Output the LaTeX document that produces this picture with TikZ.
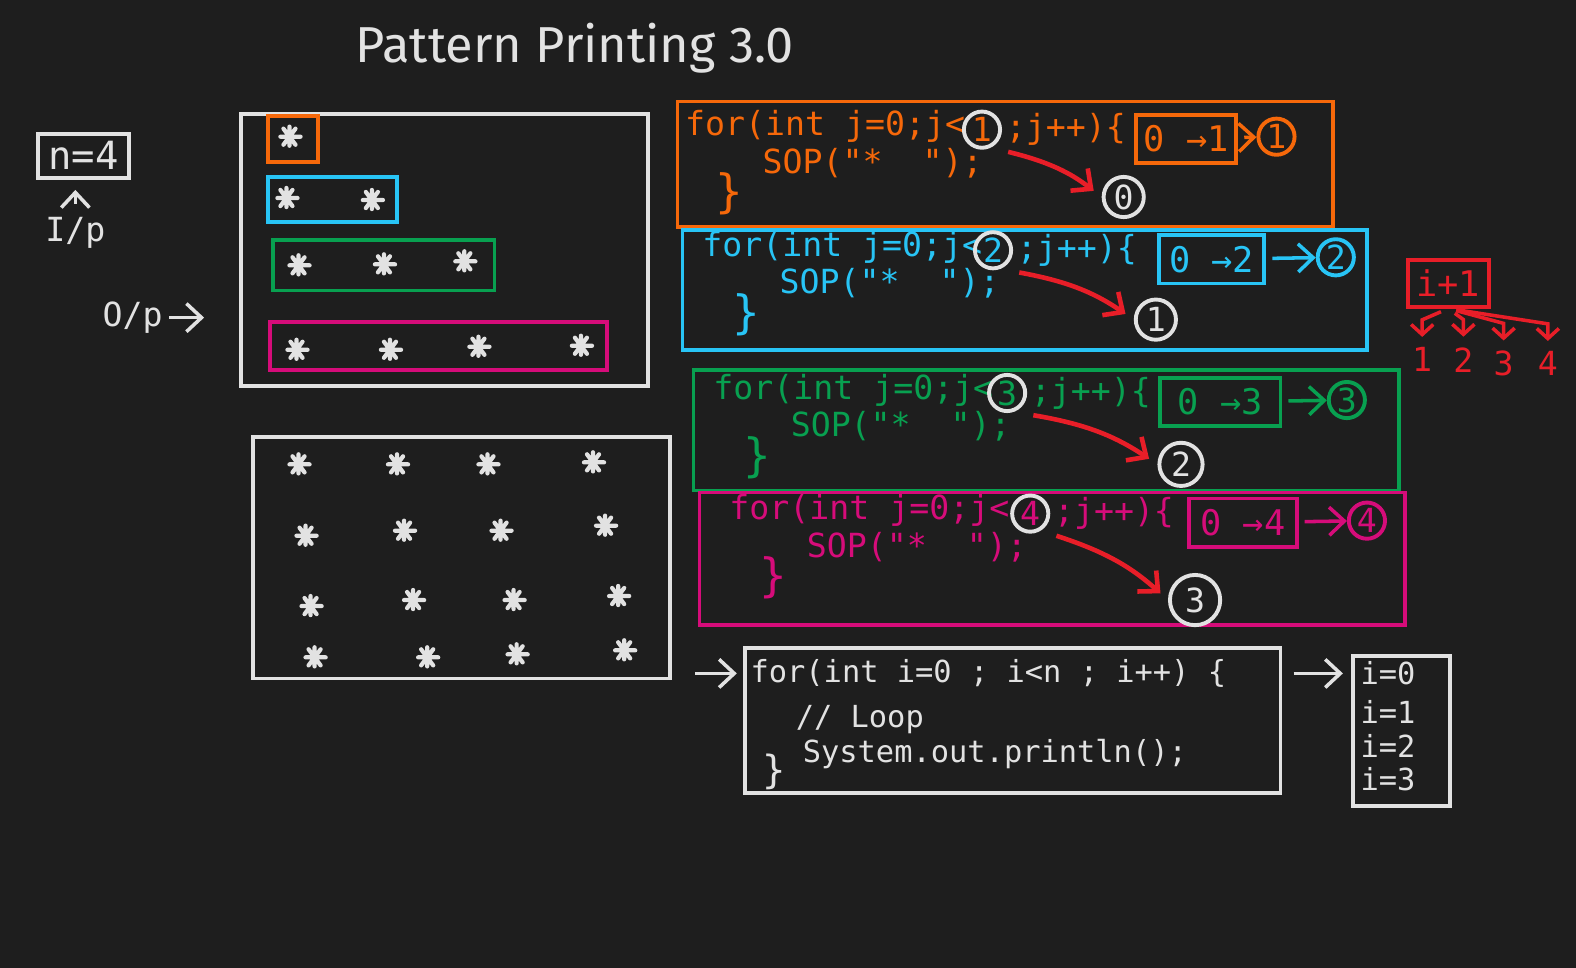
\documentclass[tikz,border=0pt]{standalone}
\usepackage{fontspec}
\setmainfont{Fira Sans}
\setmonofont{DejaVu Sans Mono}
\usetikzlibrary{arrows.meta,positioning,calc,fit,shapes.geometric}
\definecolor{board}{RGB}{30,30,30}
\definecolor{chalk}{RGB}{226,226,226}
\definecolor{penorange}{RGB}{246,104,10}
\definecolor{penblue}{RGB}{40,196,245}
\definecolor{pengreen}{RGB}{8,160,80}
\definecolor{penpink}{RGB}{214,12,122}
\definecolor{penred}{RGB}{232,30,40}

\begin{document}
\begin{tikzpicture}[x=0.1mm,y=-0.1mm,line width=1pt,>={Straight Barb[length=1.5mm,width=2.8mm]},
  hand/.style={font=\ttfamily\fontsize{9.4}{11}\selectfont,inner sep=0pt},
  code/.style={hand,anchor=west},
  box/.style={draw,line width=1.1pt,inner sep=0pt},
  ring/.style={circle,draw,line width=1.1pt,inner sep=0.6pt,minimum size=3.6mm},
  astr/.pic={\draw[chalk,line width=1.2pt,line cap=round] (-9,0) -- (11,0) (-6,-8) -- (6,8) (6,-8) -- (-6,8) (0,-10) -- (0,9);}]
\fill[board] (0,0) rectangle (1568,963);
% title
\node[chalk,font=\fontsize{14.3}{17}\selectfont] (title) at (572,48) {Pattern Printing 3.0};
% input / output labels
\node[box,chalk,hand,font=\ttfamily\fontsize{11}{13}\selectfont,minimum width=9mm,minimum height=4.4mm] (nbox) at (83,155) {n=4};
\node[hand,chalk] (ip) at (75,232) {I/p};
\draw[chalk,->,shorten <=1.2mm,shorten >=1mm] (ip.north) -- (ip.north |- nbox.south);
\node[hand,chalk] (op) at (132,316) {O/p};
% triangle output
\node[box,chalk,fit={(240,113) (645,384)}] (tri) {};
\draw[chalk,->,shorten <=0.5mm,shorten >=3.5mm] (op.east) -- (op.east -| tri.west);
\foreach \col/\xa/\ya/\xb/\yb in {penorange/267/115/316/161, penblue/267/176/395/221,
  pengreen/272/239/492/289, penpink/269/320/604/368}
  \draw[box,\col] (\xa,\ya) rectangle (\xb,\yb);
\foreach \p in {(288,136),(285,197),(370,199),(297,264),(382,263),(462,260),
  (295,348),(388,348),(476,345),(578,344)}
  \pic at \p {astr};
% square output
\node[box,chalk,fit={(252,435) (667,675)}] (grid) {};
\foreach \p in {(297,462),(395,462),(485,462),(590,460),(304,533),(402,528),(498,528),(602,523),
  (309,603),(411,597),(511,597),(615,593),(313,654),(425,654),(514,651),(621,647)}
  \pic at \p {astr};
% inner loops, one per row
\foreach \k/\col/\bx/\by/\bX/\bY/\tx/\ty/\cx/\ix/\iX/\ox/\wx/\wy/\ws in {
  1/penorange/674/101/1326/226/680/126/977/1130/1230/1270/1118/196/4,
  2/penblue/679/229/1360/348/697/246/988/1153/1258/1329/1150/318/4,
  3/pengreen/690/368/1392/488/708/388/1002/1154/1274/1340/1175/462/4.3,
  4/penpink/696/490/1398/622/724/508/1025/1183/1290/1360/1189/597/5}{
  \pgfmathtruncatemacro\km{\k-1}
  \node[box,draw=\col,fit={(\bx,\by) (\bX,\by) (\bX,\bY)}] (code\k) {};
  \node[code,\col] (for\k) at (\tx,\ty) {for(int j=0;j<};
  \node[ring,chalk,text=\col,hand] (lim\k) at (\cx,\ty+3) {\k};
  \node[code,\col,right=0.2mm of lim\k] (inc\k) {;j++)\{};
  \node[code,\col] (sop\k) at (\tx+77,\ty+36) {SOP("*\ \ ");};
  \node[code,\col,font=\ttfamily\fontsize{13}{13}\selectfont] (end\k) at (\tx+30,\ty+67) {\}};
  \node[box,draw=\col,text=\col,hand,font=\ttfamily\fontsize{10}{12}\selectfont,
    minimum width={(\iX-\ix)*0.1mm},minimum height=4.8mm] (rng\k) at ({(\ix+\iX)/2},\ty+12) {0 →\k};
  \node[ring,\col,hand] (cnt\k) at (\ox,\ty+10) {\k};
  \draw[->,\col,shorten <=0.6mm] (rng\k) -- (cnt\k);
  \node[ring,chalk,hand,minimum size=\ws mm] (out\k) at (\wx,\wy) {\km};
  \draw[->,penred,line width=1.3pt,shorten >=1mm] ([xshift=1.2mm,yshift=-0.8mm]lim\k.south east) to[bend left=12] (out\k.west);
}
% i+1 fan
\node[box,penred,hand,font=\ttfamily\fontsize{10}{12}\selectfont,minimum width=8.1mm,minimum height=4.6mm] (step1) at (1441,282) {i+1};
\foreach \v/\x/\y in {1/1415/358,2/1456/358,3/1496/362,4/1540/362}{
  \node[hand,penred] (d\v) at (\x,\y) {\v};
  \draw[->,penred,>={Straight Barb[length=1mm,width=2.2mm]},shorten <=0.8mm]
    (step1.south) -- ([yshift=2.6mm]d\v.north) -- ([yshift=0.9mm]d\v.north);
}
% outer loop
\node[box,chalk,fit={(741,645) (1274,789)}] (loop) {};
\node[code,chalk,font=\ttfamily\fontsize{8.6}{10}\selectfont] (fori) at (745,670) {for(int i=0 ; i<n ; i++) \{};
\node[code,chalk,font=\ttfamily\fontsize{8.6}{10}\selectfont] (cmt) at (790,716) {// Loop};
\node[code,chalk,font=\ttfamily\fontsize{8.6}{10}\selectfont] (nl) at (797,750) {System.out.println();};
\node[code,chalk,font=\ttfamily\fontsize{11}{11}\selectfont] (cls) at (757,768) {\}};
\draw[chalk,->,shorten <=2.3mm,shorten >=0.6mm] (grid.east |- fori.west) -- (loop.west |- fori.west);
\node[box,chalk,fit={(1346,653) (1443,802)}] (iter) {};
\foreach \v/\y in {0/670,1/708,2/742,3/775}
  \node[code,chalk,font=\ttfamily\fontsize{8.6}{10}\selectfont] (i\v) at (1352,\y) {i=\v};
\draw[chalk,->,shorten <=1.1mm,shorten >=0.8mm] (loop.east |- fori.west) -- (iter.west |- fori.west);
\end{tikzpicture}
\end{document}
